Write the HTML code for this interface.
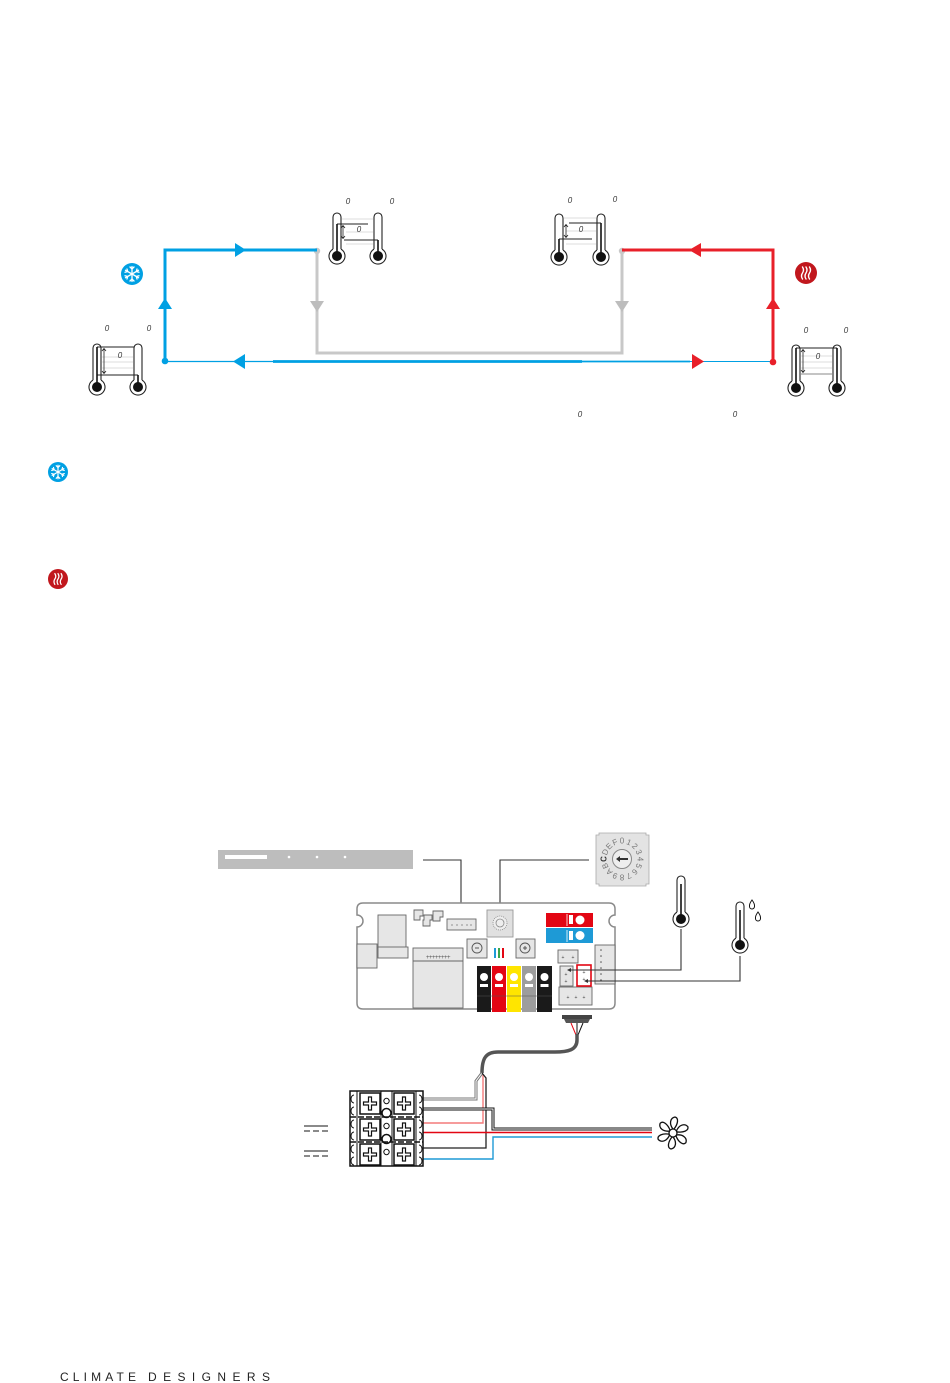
<!DOCTYPE html>
<html><head><meta charset="utf-8"><style>
html,body{margin:0;padding:0;background:#fff;}
svg{display:block;}
text{font-family:"Liberation Sans",sans-serif;}
</style></head><body>
<svg width="950" height="1383" viewBox="0 0 950 1383" xmlns="http://www.w3.org/2000/svg">
<defs>
<g id="th">
<path d="M -4 36.1 V 4 A 4 4 0 0 1 4 4 V 36.1" fill="#fff" stroke="#222" stroke-width="1.1"/>
<path d="M 4 36.1 A 8 8 0 1 1 -4 36.1" fill="#fff" stroke="#222" stroke-width="1.1"/>
<circle cx="0" cy="43" r="5" fill="#111"/>
</g>
<g id="snow" stroke="#fff" stroke-width="1.3" fill="none" stroke-linecap="round">
<line x1="0" y1="-7.5" x2="0" y2="7.5"/>
<line x1="-6.5" y1="-3.75" x2="6.5" y2="3.75"/>
<line x1="-6.5" y1="3.75" x2="6.5" y2="-3.75"/>
<path d="M-2 -7 L0 -5 L2 -7 M-2 7 L0 5 L2 7 M-7 -1.8 L-4.3 -2.5 L-5 -5 M7 1.8 L4.3 2.5 L5 5 M-7 1.8 L-4.3 2.5 L-5 5 M7 -1.8 L4.3 -2.5 L5 -5"/>
</g>
<g id="heat" stroke="#fff" stroke-width="1.4" fill="none" stroke-linecap="round">
<path d="M-3.5 -6 q 2 3 0 6 q -2 3 0 6"/>
<path d="M0 -6 q 2 3 0 6 q -2 3 0 6"/>
<path d="M3.5 -6 q 2 3 0 6 q -2 3 0 6"/>
</g>
<g id="scr">
<rect x="0" y="0" width="20" height="21" fill="#fff" stroke="#111" stroke-width="1.5"/>
<path d="M8.5 4 h3 v5 h5 v3 h-5 v5 h-3 v-5 h-5 v-3 h5 z" fill="#fff" stroke="#111" stroke-width="1.2"/>
</g>
</defs>

<rect width="950" height="1383" fill="#fff"/>

<!-- ===== TOP DIAGRAM ===== -->
<!-- gray loop -->
<path d="M317 251 V353 H622 V251" fill="none" stroke="#c8c8c8" stroke-width="3"/>
<circle cx="317" cy="251" r="3.2" fill="#c8c8c8"/>
<circle cx="622" cy="251" r="3.2" fill="#c8c8c8"/>
<polygon points="310,301 324,301 317,312" fill="#bdbdbd"/>
<polygon points="615,301 629,301 622,312" fill="#bdbdbd"/>

<!-- blue loop -->
<path d="M165 361 V250 H317" fill="none" stroke="#00a0e3" stroke-width="3"/>
<circle cx="165" cy="361" r="3.3" fill="#00a0e3"/>
<polygon points="165,298 158,309 172,309" fill="#00a0e3"/>
<polygon points="246,250 235,243 235,257" fill="#00a0e3"/>
<line x1="165" y1="361.5" x2="273" y2="361.5" stroke="#00a0e3" stroke-width="1.2"/>
<line x1="273" y1="361.5" x2="582" y2="361.5" stroke="#00a0e3" stroke-width="2.8"/>
<line x1="582" y1="361.5" x2="690" y2="361.5" stroke="#00a0e3" stroke-width="1.8"/>
<line x1="690" y1="361.5" x2="773" y2="361.5" stroke="#00a0e3" stroke-width="1.1"/>
<polygon points="233,361.5 245,354 245,369" fill="#00a0e3"/>

<!-- red loop -->
<path d="M773 362 V250 H622" fill="none" stroke="#e8202a" stroke-width="3"/>
<circle cx="773" cy="362" r="3.3" fill="#e8202a"/>
<polygon points="773,298 766,309 780,309" fill="#e8202a"/>
<polygon points="689,250 701,243 701,257" fill="#e8202a"/>
<polygon points="704,361.5 692,354 692,369" fill="#e8202a"/>

<!-- icons -->
<circle cx="132" cy="274" r="11" fill="#00a0e3"/>
<use href="#snow" x="132" y="274"/>
<circle cx="806" cy="273" r="11" fill="#c1171d"/>
<use href="#heat" x="806" y="273"/>
<circle cx="58" cy="472" r="10" fill="#00a0e3"/>
<use href="#snow" transform="translate(58 472) scale(0.9)"/>
<circle cx="58" cy="579" r="10" fill="#c1171d"/>
<use href="#heat" transform="translate(58 579) scale(0.9)"/>

<!-- thermometer pairs -->
<g font-size="8" font-style="italic" fill="#333" text-anchor="middle">
<!-- top-left pair -->
<g stroke="#ddd" stroke-width="1"><line x1="342" y1="219" x2="373" y2="219"/><line x1="346" y1="232" x2="373" y2="232"/><line x1="346" y1="244" x2="373" y2="244"/></g>
<use href="#th" x="337" y="213"/><use href="#th" x="378" y="213"/>
<line x1="337" y1="224" x2="368" y2="224" stroke="#222" stroke-width="1"/>
<line x1="344" y1="240" x2="378" y2="240" stroke="#222" stroke-width="1"/>
<line x1="337" y1="224" x2="337" y2="252" stroke="#111" stroke-width="1.6"/>
<line x1="378" y1="240" x2="378" y2="252" stroke="#111" stroke-width="1.6"/>
<path d="M343 226 V238 M341 228 L343 225.5 L345 228 M341 236 L343 238.5 L345 236" stroke="#222" stroke-width="0.8" fill="none"/>
<text x="348" y="204">0</text><text x="392" y="204">0</text><text x="359" y="232">0</text>

<!-- top-right pair -->
<g stroke="#ddd" stroke-width="1"><line x1="564" y1="218" x2="596" y2="218"/><line x1="566" y1="231" x2="596" y2="231"/><line x1="566" y1="244" x2="596" y2="244"/></g>
<use href="#th" x="559" y="214"/><use href="#th" x="601" y="214"/>
<line x1="569" y1="223" x2="601" y2="223" stroke="#222" stroke-width="1"/>
<line x1="559" y1="239" x2="592" y2="239" stroke="#222" stroke-width="1"/>
<line x1="559" y1="239" x2="559" y2="253" stroke="#111" stroke-width="1.6"/>
<line x1="601" y1="223" x2="601" y2="253" stroke="#111" stroke-width="1.6"/>
<path d="M566 225 V237 M564 227 L566 224.5 L568 227 M564 235 L566 237.5 L568 235" stroke="#222" stroke-width="0.8" fill="none"/>
<text x="570" y="203">0</text><text x="615" y="202">0</text><text x="581" y="232">0</text>

<!-- left-bottom pair -->
<g stroke="#ddd" stroke-width="1"><line x1="102" y1="357" x2="133" y2="357"/><line x1="102" y1="362" x2="133" y2="362"/><line x1="102" y1="368" x2="133" y2="368"/></g>
<use href="#th" x="97" y="344"/><use href="#th" x="138" y="344"/>
<line x1="97" y1="347" x2="134" y2="347" stroke="#222" stroke-width="1"/>
<line x1="97" y1="375" x2="138" y2="375" stroke="#222" stroke-width="1"/>
<line x1="97" y1="347" x2="97" y2="383" stroke="#111" stroke-width="1.6"/>
<line x1="138" y1="375" x2="138" y2="383" stroke="#111" stroke-width="1.6"/>
<path d="M104 349 V373 M102 351 L104 348.5 L106 351 M102 371 L104 373.5 L106 371" stroke="#222" stroke-width="0.8" fill="none"/>
<text x="107" y="331">0</text><text x="149" y="331">0</text><text x="120" y="358">0</text>

<!-- right-bottom pair -->
<g stroke="#ddd" stroke-width="1"><line x1="801" y1="356" x2="832" y2="356"/><line x1="801" y1="362" x2="832" y2="362"/><line x1="801" y1="368" x2="832" y2="368"/></g>
<use href="#th" x="796" y="345"/><use href="#th" x="837" y="345"/>
<line x1="796" y1="348" x2="837" y2="348" stroke="#222" stroke-width="1"/>
<line x1="800" y1="374" x2="832" y2="374" stroke="#888" stroke-width="1"/>
<line x1="796" y1="348" x2="796" y2="384" stroke="#111" stroke-width="1.6"/>
<line x1="837" y1="348" x2="837" y2="384" stroke="#111" stroke-width="1.6"/>
<path d="M803 350 V372 M801 352 L803 349.5 L805 352 M801 370 L803 372.5 L805 370" stroke="#222" stroke-width="0.8" fill="none"/>
<text x="806" y="333">0</text><text x="846" y="333">0</text><text x="818" y="359">0</text>

<text x="580" y="417">0</text><text x="735" y="417">0</text>
</g>

<!-- ===== BOTTOM DIAGRAM ===== -->
<!-- gray bar -->
<rect x="218" y="850" width="195" height="19" fill="#bdbdbd"/>
<rect x="225" y="855" width="42" height="4" fill="#fff"/>
<circle cx="289" cy="857" r="1.3" fill="#fff"/><circle cx="317" cy="857" r="1.3" fill="#fff"/><circle cx="345" cy="857" r="1.3" fill="#fff"/>

<!-- leader lines -->
<path d="M423 860 H461 V913" fill="none" stroke="#333" stroke-width="1.1"/>
<polygon points="459,911 463,911 461,915" fill="#333"/>
<path d="M589 860 H500 V913" fill="none" stroke="#333" stroke-width="1.1"/>
<polygon points="498,911 502,911 500,915" fill="#333"/>

<!-- big rotary -->
<path d="M599 833 H646 V835 H649 V884 H646 V886 H599 V884 H596 V835 H599 Z" fill="#e3e3e3" stroke="#aaa" stroke-width="0.8"/>
<circle cx="622" cy="859" r="9.5" fill="#eee" stroke="#888" stroke-width="1"/>
<path d="M616 859 L620 856 V858 H628 V860 H620 V862 Z" fill="#333"/>
<g font-size="8" fill="#777" text-anchor="middle" dominant-baseline="central">
<text x="622" y="841">0</text>
<text x="628.9" y="842.4" transform="rotate(22.5 628.9 842.4)">1</text>
<text x="634.7" y="846.3" transform="rotate(45 634.7 846.3)">2</text>
<text x="638.6" y="852.1" transform="rotate(67.5 638.6 852.1)">3</text>
<text x="640" y="859" transform="rotate(90 640 859)">4</text>
<text x="638.6" y="865.9" transform="rotate(112.5 638.6 865.9)">5</text>
<text x="634.7" y="871.7" transform="rotate(135 634.7 871.7)">6</text>
<text x="628.9" y="875.6" transform="rotate(157.5 628.9 875.6)">7</text>
<text x="622" y="877" transform="rotate(180 622 877)">8</text>
<text x="615.1" y="875.6" transform="rotate(202.5 615.1 875.6)">9</text>
<text x="609.3" y="871.7" transform="rotate(225 609.3 871.7)">A</text>
<text x="605.4" y="865.9" transform="rotate(247.5 605.4 865.9)">B</text>
<text x="604" y="859" transform="rotate(270 604 859)" fill="#333" font-weight="bold">C</text>
<text x="605.4" y="852.1" transform="rotate(292.5 605.4 852.1)">D</text>
<text x="609.3" y="846.3" transform="rotate(315 609.3 846.3)">E</text>
<text x="615.1" y="842.4" transform="rotate(337.5 615.1 842.4)">F</text>
</g>

<!-- board -->
<path d="M363 903 H609 Q615 903 615 909 V915 A6 6 0 0 0 615 927 V1003 Q615 1009 609 1009 H363 Q357 1009 357 1003 V927 A6 6 0 0 0 357 915 V909 Q357 903 363 903 Z" fill="#fff" stroke="#8a8a8a" stroke-width="1.5"/>
<g fill="#e6e6e6" stroke="#666" stroke-width="0.9">
<rect x="378" y="915" width="28" height="33"/>
<rect x="378" y="947" width="30" height="11"/>
<rect x="357" y="944" width="20" height="24"/>
<path d="M414 910 h9 v6 h-3 v4 h-6 z"/>
<path d="M424 915 h8 v5 h-2 v6 h-7 v-6 h1 z"/>
<path d="M433 911 h10 v6 h-3 v4 h-7 z"/>
<rect x="447" y="919" width="29" height="11"/>
<rect x="413" y="948" width="50" height="60"/>
<line x1="413" y1="961" x2="463" y2="961"/>
<rect x="487" y="910" width="26" height="27" fill="#e0e0e0" stroke="#999"/>
<rect x="467" y="939" width="20" height="19"/>
<rect x="516" y="939" width="19" height="19"/>
<rect x="558" y="950" width="20" height="13"/>
<rect x="560" y="966" width="13" height="20"/>
<rect x="559" y="987" width="33" height="18"/>
<rect x="595" y="945" width="20" height="39"/>
</g>
<g fill="#555"><circle cx="452" cy="925" r="0.6"/><circle cx="457" cy="925" r="0.6"/><circle cx="462" cy="925" r="0.6"/><circle cx="467" cy="925" r="0.6"/><circle cx="471" cy="925" r="0.6"/></g>
<text x="438" y="959" font-size="6" fill="#555" text-anchor="middle" letter-spacing="-0.5">++++++++</text>
<circle cx="500" cy="923" r="7" fill="#eee" stroke="#888" stroke-width="0.8" stroke-dasharray="1 1"/>
<circle cx="500" cy="923" r="4" fill="none" stroke="#888" stroke-width="0.8"/>
<circle cx="477" cy="948" r="5" fill="none" stroke="#555" stroke-width="0.9"/>
<line x1="475" y1="948" x2="479" y2="948" stroke="#555" stroke-width="1"/>
<circle cx="525" cy="948" r="5" fill="none" stroke="#555" stroke-width="0.9"/>
<path d="M523 948 h4 M525 946 v4" stroke="#555" stroke-width="1"/>
<rect x="494" y="948" width="2" height="10" fill="#1e9ad6"/>
<rect x="498" y="948" width="2" height="10" fill="#3aa54a"/>
<rect x="502" y="948" width="2" height="10" fill="#e30613"/>
<!-- switches -->
<rect x="546" y="913" width="47" height="14" fill="#e30613"/>
<line x1="567" y1="914" x2="567" y2="926" stroke="#fff" stroke-width="0.8"/>
<rect x="569" y="915" width="4" height="9" fill="#fff"/>
<circle cx="580" cy="920" r="4.5" fill="#fff"/>
<rect x="546" y="928" width="47" height="15" fill="#1e9ad6"/>
<line x1="567" y1="930" x2="567" y2="942" stroke="#fff" stroke-width="0.8"/>
<rect x="569" y="931" width="4" height="9" fill="#fff"/>
<circle cx="580" cy="935.5" r="4.5" fill="#fff"/>
<!-- terminal colours -->
<g>
<rect x="477" y="966" width="14" height="46" fill="#1a1a1a"/>
<rect x="492" y="966" width="14" height="46" fill="#e30613"/>
<rect x="507" y="966" width="14" height="46" fill="#ffe500"/>
<rect x="522" y="966" width="14" height="46" fill="#9d9d9d"/>
<rect x="537" y="966" width="15" height="46" fill="#1a1a1a"/>
</g>
<g fill="#fff">
<circle cx="484" cy="977" r="4"/><circle cx="499" cy="977" r="4"/><circle cx="514" cy="977" r="4"/><circle cx="529" cy="977" r="4"/><circle cx="544.5" cy="977" r="4"/>
<rect x="480" y="984" width="8" height="3"/><rect x="495" y="984" width="8" height="3"/><rect x="510" y="984" width="8" height="3"/><rect x="525" y="984" width="8" height="3"/><rect x="540.5" y="984" width="8" height="3"/>
</g>
<line x1="477" y1="996" x2="552" y2="996" stroke="#555" stroke-width="0.6"/>
<!-- small connectors pins -->
<rect x="577" y="965" width="14" height="21" fill="#fff" stroke="#e30613" stroke-width="1.6"/>
<g font-size="5" fill="#444" text-anchor="middle">
<text x="563" y="959">+</text><text x="573" y="959">+</text>
<text x="566" y="976">+</text><text x="566" y="983">+</text>
<text x="584" y="974">+</text><text x="584" y="981">+</text>
<text x="568" y="999">+</text><text x="576" y="999">+</text><text x="584" y="999">+</text>
</g>
<g fill="#555"><circle cx="601" cy="950" r="0.8"/><circle cx="601" cy="956" r="0.8"/><circle cx="601" cy="962" r="0.8"/><circle cx="601" cy="968" r="0.8"/><circle cx="601" cy="974" r="0.8"/><circle cx="601" cy="980" r="0.8"/></g>

<!-- sensors -->
<path d="M568 970 H681 V929" fill="none" stroke="#333" stroke-width="1.1"/>
<path d="M585 981 H740 V956" fill="none" stroke="#333" stroke-width="1.1"/>
<polygon points="567,970 571,968 571,972" fill="#333"/>
<polygon points="584,981 588,979 588,983" fill="#333"/>
<use href="#th" x="681" y="876"/>
<line x1="681" y1="884" x2="681" y2="915" stroke="#111" stroke-width="1.6"/>
<use href="#th" x="740" y="902"/>
<line x1="740" y1="910" x2="740" y2="941" stroke="#111" stroke-width="1.6"/>
<path d="M752 900 q3 4 2.5 6.5 a2.5 2.5 0 0 1 -5 0 q-0.5 -2.5 2.5 -6.5 z" fill="#fff" stroke="#111" stroke-width="1"/>
<path d="M758 912 q3 4 2.5 6.5 a2.5 2.5 0 0 1 -5 0 q-0.5 -2.5 2.5 -6.5 z" fill="#fff" stroke="#111" stroke-width="1"/>

<!-- connector & cable -->
<rect x="562" y="1015" width="30" height="4" fill="#444"/>
<path d="M564 1019 H590 L588 1023 H566 Z" fill="#555"/>
<line x1="571" y1="1023" x2="576" y2="1035" stroke="#e30613" stroke-width="1"/>
<line x1="577" y1="1023" x2="577" y2="1035" stroke="#111" stroke-width="1"/>
<line x1="583" y1="1023" x2="578" y2="1035" stroke="#111" stroke-width="1"/>
<path d="M577 1034 V1040 C577 1050 568 1052 555 1052 H498 C486 1052 482 1058 482 1073" fill="none" stroke="#555" stroke-width="3.5"/>

<!-- wires to terminal block -->
<path d="M423 1099 H476 V1081 L482 1073" fill="none" stroke="#777" stroke-width="3"/>
<path d="M423 1099 H476 V1081 L482 1073" fill="none" stroke="#fff" stroke-width="1"/>
<path d="M423 1123 H483 V1075" fill="none" stroke="#f47a7a" stroke-width="1.4"/>
<path d="M423 1148 H486 V1078 L482 1073" fill="none" stroke="#222" stroke-width="1.3"/>
<path d="M423 1109 H493 V1129 H652" fill="none" stroke="#111" stroke-width="3"/>
<path d="M423 1109 H493 V1129 H652" fill="none" stroke="#fff" stroke-width="1"/>
<line x1="423" y1="1132.5" x2="652" y2="1132.5" stroke="#e30613" stroke-width="1.4"/>
<path d="M423 1159 H493 V1137 H652" fill="none" stroke="#1e9ad6" stroke-width="1.4"/>

<!-- terminal block -->
<rect x="350" y="1091" width="73" height="75" fill="#fff" stroke="#111" stroke-width="1.5"/>
<g stroke="#111" stroke-width="1" fill="none">
<line x1="357" y1="1091" x2="357" y2="1166"/><line x1="416" y1="1091" x2="416" y2="1166"/>
<line x1="381" y1="1091" x2="381" y2="1166"/><line x1="392" y1="1091" x2="392" y2="1166"/>
<path d="M354 1095 a3 4 0 0 0 0 8 M354 1107 a3 4 0 0 0 0 8 M354 1120 a3 4 0 0 0 0 8 M354 1132 a3 4 0 0 0 0 8 M354 1145 a3 4 0 0 0 0 8 M354 1157 a3 4 0 0 0 0 8"/>
<path d="M419 1095 a3 4 0 0 1 0 8 M419 1107 a3 4 0 0 1 0 8 M419 1120 a3 4 0 0 1 0 8 M419 1132 a3 4 0 0 1 0 8 M419 1145 a3 4 0 0 1 0 8 M419 1157 a3 4 0 0 1 0 8"/>
<circle cx="386.5" cy="1101" r="2.7"/><circle cx="386.5" cy="1126" r="2.7"/><circle cx="386.5" cy="1152" r="2.7"/>
<circle cx="386.5" cy="1113" r="4.5" stroke-width="1.5"/><circle cx="386.5" cy="1139" r="4.5" stroke-width="1.5"/>
</g>
<line x1="350" y1="1117" x2="423" y2="1117" stroke="#111" stroke-width="1.5" stroke-dasharray="6 2"/>
<line x1="350" y1="1142" x2="423" y2="1142" stroke="#111" stroke-width="1.5" stroke-dasharray="6 2"/>
<use href="#scr" x="360" y="1093"/><use href="#scr" x="394" y="1093"/>
<use href="#scr" x="360" y="1119"/><use href="#scr" x="394" y="1119"/>
<use href="#scr" x="360" y="1144"/><use href="#scr" x="394" y="1144"/>

<!-- DC symbols -->
<g stroke="#444" stroke-width="1.3">
<line x1="304" y1="1126" x2="328" y2="1126"/>
<line x1="304" y1="1131" x2="328" y2="1131" stroke-dasharray="6 3"/>
<line x1="304" y1="1151" x2="328" y2="1151"/>
<line x1="304" y1="1156" x2="328" y2="1156" stroke-dasharray="6 3"/>
</g>

<!-- fan -->
<g transform="translate(673 1133)" fill="#fff" stroke="#111" stroke-width="1.3">
<path id="bl" d="M0 -4 C-4 -9 -3 -15 2 -16 C6 -15 5 -9 1 -4 Z"/>
<path d="M0 -4 C-4 -9 -3 -15 2 -16 C6 -15 5 -9 1 -4 Z" transform="rotate(60)"/>
<path d="M0 -4 C-4 -9 -3 -15 2 -16 C6 -15 5 -9 1 -4 Z" transform="rotate(120)"/>
<path d="M0 -4 C-4 -9 -3 -15 2 -16 C6 -15 5 -9 1 -4 Z" transform="rotate(180)"/>
<path d="M0 -4 C-4 -9 -3 -15 2 -16 C6 -15 5 -9 1 -4 Z" transform="rotate(240)"/>
<path d="M0 -4 C-4 -9 -3 -15 2 -16 C6 -15 5 -9 1 -4 Z" transform="rotate(300)"/>
<circle cx="0" cy="0" r="4"/>
</g>

<!-- footer -->
<g font-size="12" fill="#222">
<text x="60" y="1381" textLength="76" lengthAdjust="spacing">CLIMATE</text>
<text x="148" y="1381" textLength="122" lengthAdjust="spacing">DESIGNERS</text>
</g>
</svg>
</body></html>
